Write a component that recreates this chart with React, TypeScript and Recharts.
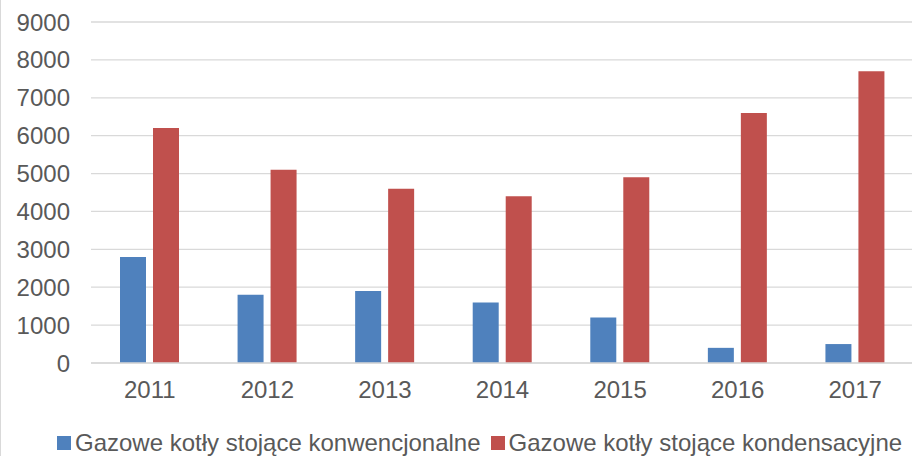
import React from "react";
import { BarChart, Bar, XAxis, YAxis, CartesianGrid, Legend } from "recharts";

const years = ["2011", "2012", "2013", "2014", "2015", "2016", "2017"];
const konwencjonalne = [2800, 1800, 1900, 1600, 1200, 400, 500];
const kondensacyjne = [6200, 5100, 4600, 4400, 4900, 6600, 7700];
const yTicks = [0, 1000, 2000, 3000, 4000, 5000, 6000, 7000, 8000, 9000];
const seriesNames = [
  "Gazowe kotły stojące konwencjonalne",
  "Gazowe kotły stojące kondensacyjne",
];
const colors = ["#4F81BD", "#C0504D"];

const data = years.map((y, i) => ({
  year: y,
  konw: konwencjonalne[i],
  kond: kondensacyjne[i],
}));

const FONT = "'Liberation Sans', Arial, sans-serif";

const LegendContent = () => (
  <div
    style={{
      display: "flex",
      alignItems: "center",
      height: 28,
      fontFamily: FONT,
      fontSize: 24,
      lineHeight: "28px",
      color: "#595959",
      whiteSpace: "nowrap",
    }}
  >
    {seriesNames.map((n, i) => (
      <span key={n} style={{ display: "flex", alignItems: "center", marginRight: 10 }}>
        <span
          style={{
            display: "inline-block",
            width: 14,
            height: 14,
            background: colors[i],
            marginRight: 4,
          }}
        />
        {n}
      </span>
    ))}
  </div>
);

export default function App() {
  return (
    <div
      style={{
        position: "absolute",
        left: 0,
        top: 0,
        width: 912,
        height: 456,
        overflow: "hidden",
        background: "#fff",
      }}
    >
      <div
        style={{
          position: "absolute",
          left: 0,
          top: 0,
          width: 1,
          height: 456,
          background: "#D9D9D9",
          zIndex: 2,
        }}
      />
      <BarChart
        width={920}
        height={456}
        data={data}
        margin={{ top: 22, right: 6, bottom: 35, left: 0 }}
        barSize={26}
        barGap={7}
      >
        <CartesianGrid vertical={false} stroke="#D9D9D9" strokeWidth={1.3} />
        <XAxis
          dataKey="year"
          height={30}
          tickLine={false}
          axisLine={{ stroke: "#D9D9D9", strokeWidth: 1.3 }}
          tick={{ fill: "#595959", fontSize: 24, fontFamily: FONT }}
          tickMargin={12}
        />
        <YAxis
          width={91}
          domain={[0, 9000]}
          ticks={yTicks}
          tickLine={false}
          axisLine={false}
          tickSize={0}
          tickMargin={21}
          tick={{ fill: "#595959", fontSize: 24, fontFamily: FONT }}
        />
        <Legend
          content={<LegendContent />}
          wrapperStyle={{ position: "absolute", left: 57, top: 429, width: 900, height: 28 }}
        />
        <Bar dataKey="konw" fill={colors[0]} isAnimationActive={false} />
        <Bar dataKey="kond" fill={colors[1]} isAnimationActive={false} />
      </BarChart>
    </div>
  );
}
